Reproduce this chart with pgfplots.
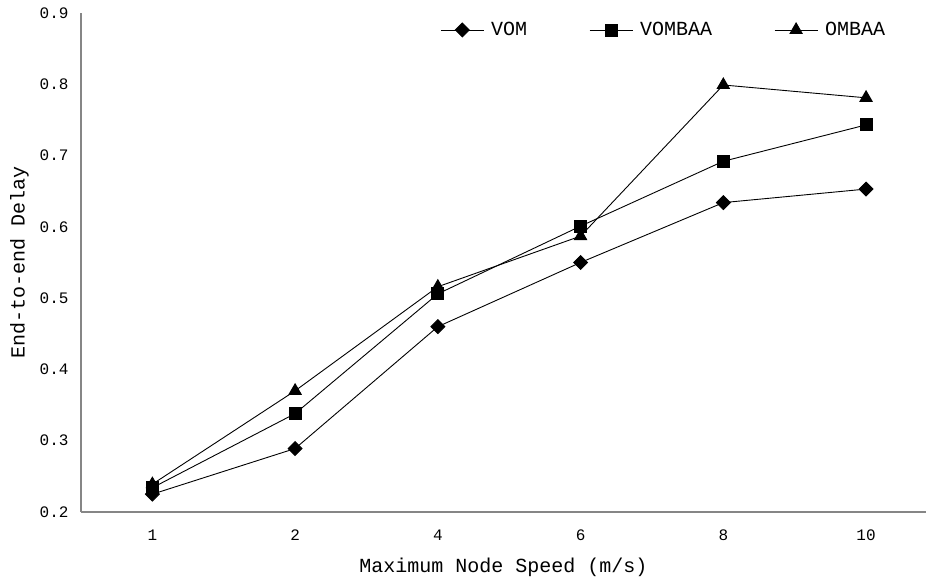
\documentclass[border=0pt]{standalone}
\usepackage{fontspec}
\setmainfont{Liberation Mono}
\usepackage{pgfplots}
\pgfplotsset{compat=1.18}
\definecolor{axisgray}{RGB}{134,134,134}

\begin{document}
\begin{tikzpicture}
\begin{axis}[
    scale only axis,
    width=845pt, height=499pt,
    xmin=-0.5, xmax=5.42,
    ymin=0.2, ymax=0.9,
    xtick={0,1,2,3,4,5},
    xticklabels={1,2,4,6,8,10},
    ytick={0.2,0.3,0.4,0.5,0.6,0.7,0.8,0.9},
    axis x line*=bottom,
    axis y line*=left,
    axis line style={axisgray, line width=1.3pt, -},
    major tick length=0pt,
    tick style={draw=none},
    /pgf/number format/fixed,
    /pgf/number format/fixed zerofill,
    /pgf/number format/precision=1,
    /pgf/number format/assume math mode=true,
    tick label style={font=\fontsize{16}{16}\selectfont},
    yticklabel style={xshift=-9pt},
    xticklabel style={yshift=-14pt},
    xlabel={Maximum Node Speed (m/s)},
    ylabel={End-to-end Delay},
    label style={font=\fontsize{20}{20}\selectfont},
    xlabel style={yshift=-11pt},
    ylabel style={yshift=4pt},
    legend columns=3,
    legend style={draw=none, fill=none, inner sep=0pt,
        at={(0.425,0.966)}, anchor=west,
        font=\fontsize{20}{20}\selectfont,
        nodes={inner sep=0pt},
        /tikz/every odd column/.append style={column sep=7pt},
        /tikz/every even column/.append style={column sep=62pt}},
    legend image code/.code={\draw[mark repeat=2,mark phase=2] plot coordinates {(0pt,0pt) (21.5pt,0pt) (43pt,0pt)};},
    every axis plot/.append style={black, line width=0.9pt},
]
\addplot[mark=square*, mark size=4.9pt, mark options={rotate=45}] coordinates {
    (0,0.225) (1,0.289) (2,0.460) (3,0.550) (4,0.634) (5,0.653)};
\addlegendentry{VOM}
\addplot[mark=square*, mark size=6pt] coordinates {
    (0,0.234) (1,0.338) (2,0.506) (3,0.601) (4,0.692) (5,0.743)};
\addlegendentry{VOMBAA}
\addplot[mark=triangle*, mark size=7pt] coordinates {
    (0,0.239) (1,0.370) (2,0.516) (3,0.587) (4,0.799) (5,0.781)};
\addlegendentry{OMBAA}
\end{axis}
\pgfresetboundingbox
\path ([xshift=-81pt,yshift=-71pt]current axis.south west) rectangle ([yshift=13pt]current axis.north east);
\end{tikzpicture}
\end{document}
